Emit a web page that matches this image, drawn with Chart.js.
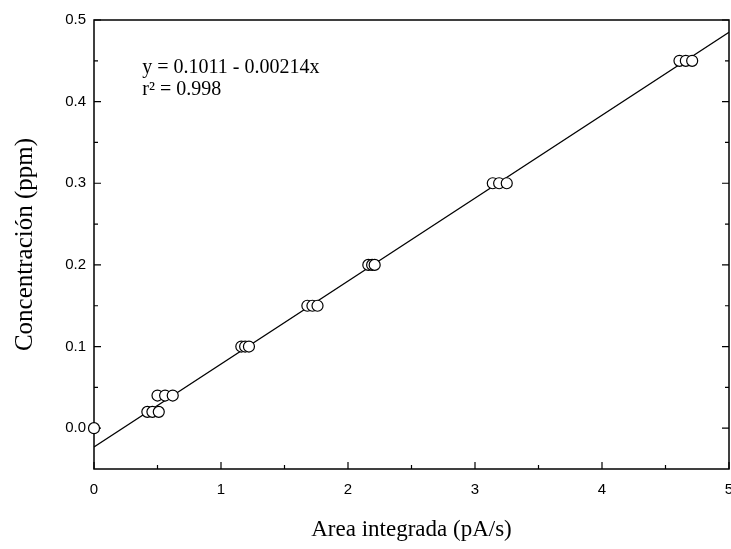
<!DOCTYPE html>
<html>
<head>
<meta charset="utf-8">
<script src="https://cdn.jsdelivr.net/npm/chart.js@4/dist/chart.umd.min.js"></script>
<style>
  body { margin: 0; background: #fff; }
  #wrap { width: 731px; height: 549px; }
</style>
</head>
<body>
<div id="wrap"><canvas id="calib" width="731" height="549"></canvas></div>
<script>
// measured points (area vs concentration)
const areaValues = [0, 0.42, 0.46, 0.51, 0.50, 0.56, 0.62, 1.16, 1.19, 1.22, 1.68, 1.72, 1.76, 2.16, 2.19, 2.21, 3.14, 3.19, 3.25, 4.61, 4.66, 4.71];
const concValues = [0, 0.02, 0.02, 0.02, 0.04, 0.04, 0.04, 0.10, 0.10, 0.10, 0.15, 0.15, 0.15, 0.20, 0.20, 0.20, 0.30, 0.30, 0.30, 0.45, 0.45, 0.45];

// regression line end points
const fitX = [0, 5];
const fitY = [-0.023, 0.485];

const xTicks = [0, 1, 2, 3, 4, 5];
const yTicks = [0.0, 0.1, 0.2, 0.3, 0.4, 0.5];
const xMinor = [0.5, 1.5, 2.5, 3.5, 4.5];
const yMinor = [0.05, 0.15, 0.25, 0.35, 0.45];

const eqLines = ['y = 0.1011 - 0.00214x', 'r\u00B2 = 0.998'];

const serif = "'Liberation Serif', 'DejaVu Serif', serif";
const sans = "'Liberation Sans', Arial, sans-serif";

// frame + inward ticks (under the points) and the equation text
const framePlugin = {
    id: 'frame',
    beforeDatasetsDraw(chart) {
        const { ctx, chartArea: a, scales: { x, y } } = chart;
        ctx.save();
        ctx.strokeStyle = '#000';
        ctx.lineWidth = 1.5;
        ctx.strokeRect(a.left, a.top, a.right - a.left, a.bottom - a.top);

        ctx.lineWidth = 1.2;
        ctx.beginPath();
        xTicks.forEach(v => { const p = x.getPixelForValue(v); ctx.moveTo(p, a.bottom); ctx.lineTo(p, a.bottom - 7); });
        xMinor.forEach(v => { const p = x.getPixelForValue(v); ctx.moveTo(p, a.bottom); ctx.lineTo(p, a.bottom - 4); });
        yTicks.forEach(v => { const p = y.getPixelForValue(v); ctx.moveTo(a.left, p); ctx.lineTo(a.left + 7, p); ctx.moveTo(a.right, p); ctx.lineTo(a.right - 7, p); });
        yMinor.forEach(v => { const p = y.getPixelForValue(v); ctx.moveTo(a.left, p); ctx.lineTo(a.left + 4, p); ctx.moveTo(a.right, p); ctx.lineTo(a.right - 4, p); });
        ctx.stroke();

        // equation
        ctx.fillStyle = '#000';
        ctx.font = '20px ' + serif;
        ctx.textBaseline = 'middle';
        ctx.textAlign = 'left';
        const tx = x.getPixelForValue(0.38);
        ctx.fillText(eqLines[0], tx, y.getPixelForValue(0.441));
        ctx.fillText(eqLines[1], tx, y.getPixelForValue(0.415));
        ctx.restore();
    }
};

new Chart(document.getElementById('calib'), {
    type: 'scatter',
    data: {
        datasets: [{
            label: 'Datos',
            data: areaValues.map((v, i) => ({ x: v, y: concValues[i] })),
            pointRadius: 5.5,
            pointHoverRadius: 5.5,
            pointBackgroundColor: '#fff',
            pointBorderColor: '#000',
            pointBorderWidth: 1.2,
            showLine: false,
            clip: false,
            order: 0
        }, {
            type: 'line',
            label: 'Ajuste',
            data: fitX.map((v, i) => ({ x: v, y: fitY[i] })),
            borderColor: '#000',
            borderWidth: 1.3,
            pointRadius: 0,
            fill: false,
            order: 1
        }]
    },
    options: {
        responsive: false,
        animation: false,
        layout: { autoPadding: false, padding: { top: 20, right: 2, left: 0, bottom: 0 } },
        plugins: { legend: { display: false }, tooltip: { enabled: false } },
        scales: {
            x: {
                type: 'linear',
                min: 0,
                max: 5,
                grid: { display: false, drawTicks: false },
                border: { display: false },
                afterBuildTicks: s => { s.ticks = xTicks.map(v => ({ value: v })); },
                afterFit: s => { s.height = 80; s.paddingRight = 0; s.paddingLeft = 0; },
                ticks: { color: '#000', padding: 12, maxRotation: 0, font: { family: sans, size: 15 }, callback: v => String(v) },
                title: { display: true, text: 'Area integrada (pA/s)', color: '#000', font: { family: serif, size: 23 }, padding: { top: 0, bottom: 5 } }
            },
            y: {
                type: 'linear',
                min: -0.05,
                max: 0.5,
                grid: { display: false, drawTicks: false },
                border: { display: false },
                afterBuildTicks: s => { s.ticks = yTicks.map(v => ({ value: v })); },
                afterFit: s => { s.width = 94; s.paddingTop = 0; s.paddingBottom = 0; },
                ticks: { color: '#000', padding: 8, font: { family: sans, size: 15 }, callback: v => Number(v).toFixed(1) },
                title: { display: true, text: 'Concentración (ppm)', color: '#000', font: { family: serif, size: 25 }, padding: { top: 10, bottom: 0 } }
            }
        }
    },
    plugins: [framePlugin]
});
</script>
</body>
</html>
